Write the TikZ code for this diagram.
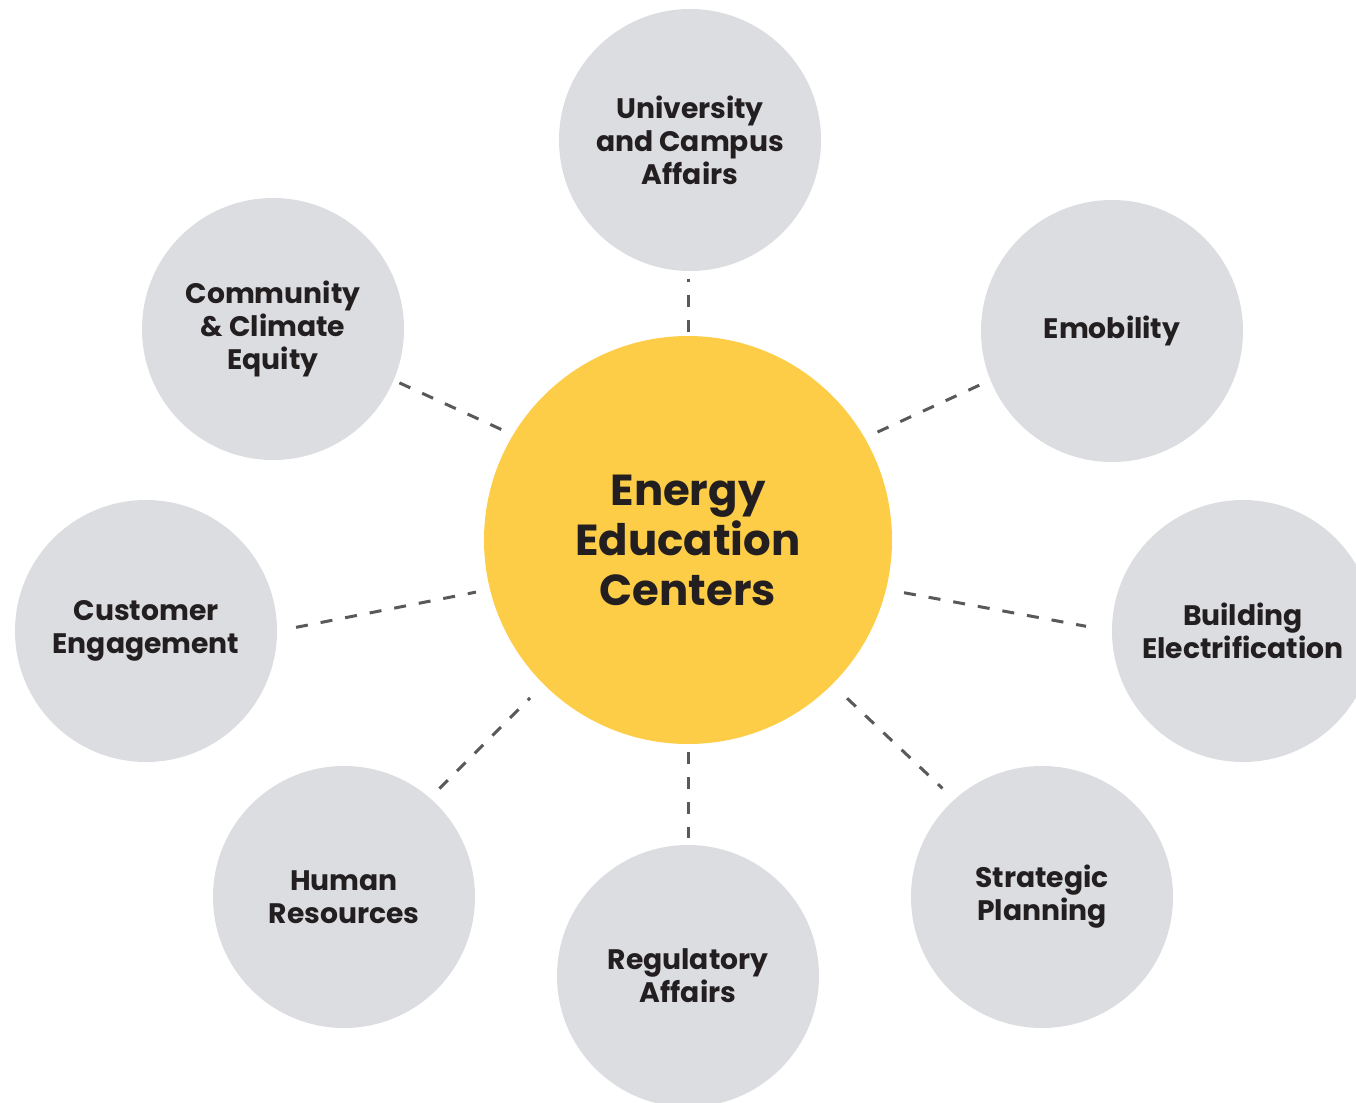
\documentclass[tikz,border=0pt]{standalone}
\usepackage{fontspec}
\setmainfont{Poppins}
\usetikzlibrary{calc}
\definecolor{bubble}{HTML}{DCDDE1}
\definecolor{hub}{HTML}{FDCD47}
\definecolor{ink}{HTML}{231F20}
\definecolor{dashgray}{HTML}{58595B}
\tikzset{
  sat/.style={circle, fill=bubble, minimum size=131pt, inner sep=0pt, align=center,
    font=\bfseries\fontsize{14.1}{16.5}\selectfont, text=ink},
  hubnode/.style={circle, fill=hub, minimum size=204pt, inner sep=0pt, align=center,
    font=\bfseries\fontsize{21.7}{25}\selectfont, text=ink},
  conn/.style={draw=dashgray, line width=1.5pt, dash pattern=on 6pt off 6.5pt}
}
\begin{document}
\begin{tikzpicture}[x=0.5pt, y=-0.5pt]
\useasboundingbox (0,0) rectangle (1356,1103);
\begin{scope}
\clip (0,0) rectangle (1356,1103);
\node[hubnode] (main) at (688,540) {Energy\\Education\\Centers};
\node[sat] (univ) at (690,140) {University\\and Campus\\Affairs};
\node[sat] (emob) at (1112,331) {Emobility};
\node[sat] (comm) at (273,329) {Community\\\&~Climate\\Equity};
\node[sat] (cust) at (146,631) {Customer\\Engagement};
\node[sat] (build) at (1243,631) {Building\\Electrification};
\node[sat] (human) at (344,897) {Human\\Resources};
\node[sat] (reg) at (688,976) {Regulatory\\Affairs};
\node[sat] (strat) at (1042,897) {Strategic\\Planning};
\end{scope}
\draw[conn, shorten <=2pt, shorten >=4pt] (main.90) -- (main.90 |- univ.-90);
\draw[conn, shorten <=3pt, shorten >=4pt] (comm.-23.2) -- (main.149.5);
\draw[conn, shorten <=6pt, shorten >=5pt] (emob.202.2) -- (main.30.3);
\draw[conn, shorten <=9.5pt, shorten >=7pt] (cust.0) -- (main.194.9);
\draw[conn, shorten <=9pt, shorten >=13pt] (main.-14.6) -- (build.180);
\draw[conn, shorten <=6.5pt, shorten >=9.5pt] (human.49.2) -- (main.225.7);
\draw[conn, shorten <=4pt, shorten >=3.5pt] (main.-90) -- (reg.90);
\draw[conn, shorten <=10pt, shorten >=8pt] (main.-45.5) -- (strat.132.2);
\end{tikzpicture}
\end{document}
